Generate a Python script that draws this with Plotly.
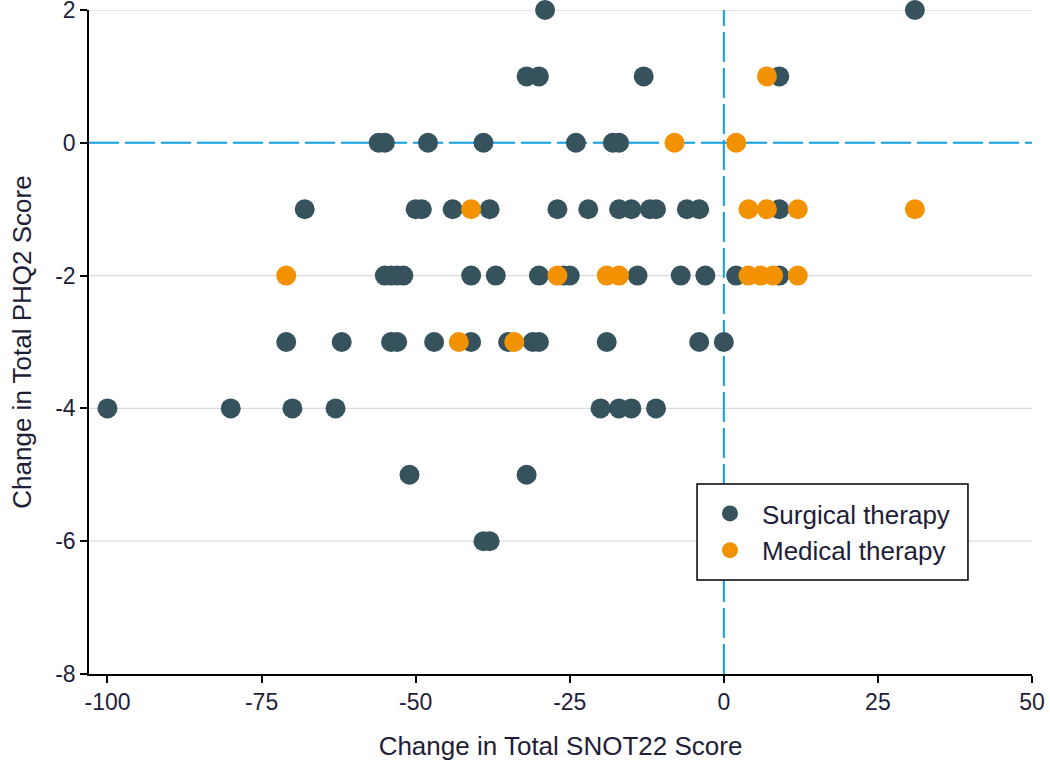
import plotly.graph_objects as go

# Surgical therapy (change SNOT22, change PHQ2)
surg_x = [-29, 31,
          -32, -30, -13, 9,
          -56, -55, -48, -39, -24, -18, -17,
          -68, -50, -49, -44, -38, -27, -22, -17, -15, -12, -11, -6, -4, 9,
          -55, -54, -53, -52, -41, -37, -30, -26, -25, -14, -7, -3, 2, 9,
          -71, -62, -54, -53, -47, -41, -35, -31, -30, -19, -4, 0,
          -100, -80, -70, -63, -20, -17, -15, -11,
          -51, -32,
          -39, -38]
surg_y = [2, 2,
          1, 1, 1, 1,
          0, 0, 0, 0, 0, 0, 0,
          -1, -1, -1, -1, -1, -1, -1, -1, -1, -1, -1, -1, -1, -1,
          -2, -2, -2, -2, -2, -2, -2, -2, -2, -2, -2, -2, -2, -2,
          -3, -3, -3, -3, -3, -3, -3, -3, -3, -3, -3, -3,
          -4, -4, -4, -4, -4, -4, -4, -4,
          -5, -5,
          -6, -6]

# Medical therapy
med_x = [7,
         -8, 2,
         -41, 4, 7, 12, 31,
         -71, -27, -19, -17, 4, 6, 8, 12,
         -43, -34]
med_y = [1,
         0, 0,
         -1, -1, -1, -1, -1,
         -2, -2, -2, -2, -2, -2, -2, -2,
         -3, -3]

x_ticks = [-100, -75, -50, -25, 0, 25, 50]
y_ticks = [-8, -6, -4, -2, 0, 2]
y_range = [-8, 2]

DARK = "#36535d"
ORANGE = "#f39200"
BLUE = "#129fdf"
GRID = "#dcdcdc"
TXT = "#1e1e38"
FONT = "Liberation Sans, Arial, sans-serif"

fig = go.Figure()

# light horizontal gridlines (except at the axis line and at the zero reference)
for yv in y_ticks:
    if yv in (y_range[0], 0):
        continue
    fig.add_shape(type="line", xref="paper", yref="y", x0=0, x1=1, y0=yv, y1=yv,
                  line=dict(color=GRID, width=1.3), layer="below")

# reference lines at 0
fig.add_shape(type="line", xref="x", yref="paper", x0=0, x1=0, y0=0, y1=1,
              line=dict(color=BLUE, width=2, dash="30px,6px"), layer="below")
fig.add_shape(type="line", xref="paper", yref="y", x0=0, x1=1, y0=0, y1=0,
              line=dict(color=BLUE, width=2, dash="30px,6px"), layer="below")

# legend frame
fig.add_shape(type="rect", xref="paper", yref="paper", x0=0.6448, x1=0.9321, y0=0.1416, y1=0.2861,
              line=dict(color="black", width=1.5), fillcolor="white", layer="above")

fig.add_trace(go.Scatter(x=surg_x, y=surg_y, mode="markers", name="Surgical therapy",
                         marker=dict(size=20, color=DARK), cliponaxis=False))
fig.add_trace(go.Scatter(x=med_x, y=med_y, mode="markers", name="Medical therapy",
                         marker=dict(size=20, color=ORANGE), cliponaxis=False))

fig.update_layout(
    width=1050, height=764,
    margin=dict(l=89, r=18, t=10, b=90, autoexpand=False),
    plot_bgcolor="white", paper_bgcolor="white",
    font=dict(family=FONT, size=23, color=TXT),
    showlegend=True,
    legend=dict(x=0.6458, y=0.2771, xanchor="left", yanchor="top",
                borderwidth=0, bgcolor="rgba(0,0,0,0)",
                font=dict(size=26, color=TXT), itemsizing="trace", itemwidth=54),
    xaxis=dict(range=[-103, 50], tickvals=x_ticks, ticktext=[str(v) for v in x_ticks],
               automargin=False, ticklabeloverflow="allow",
               showgrid=False, zeroline=False, showline=True, linecolor="black", linewidth=1.5,
               ticks="outside", ticklen=7, tickcolor="black", tickwidth=1.5,
               title=dict(text="Change in Total SNOT22 Score", font=dict(size=26, color=TXT), standoff=22)),
    yaxis=dict(range=y_range, tickvals=y_ticks, ticktext=[str(v) for v in y_ticks],
               automargin=False, ticklabeloverflow="allow",
               showgrid=False, zeroline=False,
               showline=True, linecolor="black", linewidth=1.5,
               ticks="outside", ticklen=7, tickcolor="black", tickwidth=1.5,
               title=dict(text="Change in Total PHQ2 Score", font=dict(size=26, color=TXT), standoff=16)),
)

fig.write_html("out.html", config={"displayModeBar": False},
               post_script="document.body.style.margin='0';document.body.style.overflow='hidden';")
